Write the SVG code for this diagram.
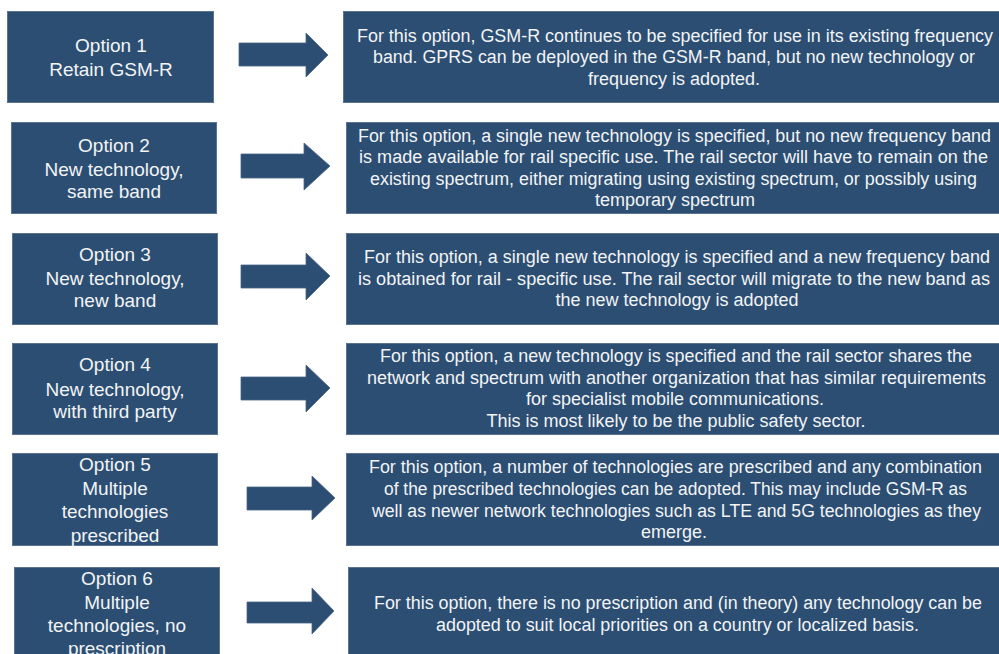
<svg xmlns="http://www.w3.org/2000/svg" width="999" height="654" viewBox="0 0 999 654">
<defs>
<style>
.box{fill:#2c4e72;stroke:#5a7390;stroke-width:1}
.arr{fill:#2c4e72;stroke:#4a6686;stroke-width:0.8}
.lt{font-family:"Liberation Sans",Arial,sans-serif;font-size:19px;fill:#f2f4f6;text-anchor:middle}
.rt{font-family:"Liberation Sans",Arial,sans-serif;font-size:18px;fill:#f2f4f6}
.rc{font-family:"Liberation Sans",Arial,sans-serif;font-size:18px;fill:#f2f4f6;text-anchor:middle}
</style>
</defs>
<rect width="999" height="654" fill="#ffffff"/>
<g id="connectors">
<path class="arr" d="M239,43 H306 V33 L328,55 L306,77 V66 H239 Z"/>
<path class="arr" d="M241,154 H304 V143 L330,166 L304,190 V178 H241 Z"/>
<path class="arr" d="M241,265 H306 V253 L330,276 L306,300 V288 H241 Z"/>
<path class="arr" d="M241,377 H306 V365 L330,388 L306,412 V400 H241 Z"/>
<path class="arr" d="M247,487 H312 V476 L335,498 L312,520 V510 H247 Z"/>
<path class="arr" d="M247,602 H312 V588 L334,611 L312,634 V623 H247 Z"/>
</g>
<g id="opt1">
<rect class="box" x="7.5" y="11.5" width="206" height="91"/>
<text class="lt" x="111" y="52">Option 1</text>
<text class="lt" x="111" y="76">Retain GSM-R</text>
</g>
<g id="opt2">
<rect class="box" x="11.5" y="122.5" width="205" height="91"/>
<text class="lt" x="114" y="152">Option 2</text>
<text class="lt" x="114" y="176">New technology,</text>
<text class="lt" x="114" y="198">same band</text>
</g>
<g id="opt3">
<rect class="box" x="12.5" y="233.5" width="205" height="91"/>
<text class="lt" x="115" y="261">Option 3</text>
<text class="lt" x="115" y="285">New technology,</text>
<text class="lt" x="115" y="307">new band</text>
</g>
<g id="opt4">
<rect class="box" x="12.5" y="343.5" width="205" height="91"/>
<text class="lt" x="115" y="371">Option 4</text>
<text class="lt" x="115" y="396">New technology,</text>
<text class="lt" x="115" y="418">with third party</text>
</g>
<g id="opt5">
<rect class="box" x="12.5" y="453.5" width="205" height="92"/>
<text class="lt" x="115" y="471">Option 5</text>
<text class="lt" x="115" y="495">Multiple</text>
<text class="lt" x="115" y="518">technologies</text>
<text class="lt" x="115" y="542">prescribed</text>
</g>
<g id="opt6">
<rect class="box" x="14.5" y="567.5" width="205" height="100"/>
<text class="lt" x="117" y="585">Option 6</text>
<text class="lt" x="117" y="609">Multiple</text>
<text class="lt" x="117" y="632">technologies, no</text>
<text class="lt" x="117" y="655">prescription</text>
</g>
<g id="desc1">
<rect class="box" x="343.5" y="11.5" width="670" height="91"/>
<text class="rt" x="357" y="42" textLength="636" lengthAdjust="spacingAndGlyphs">For this option, GSM-R  continues to be specified for use in its existing frequency</text>
<text class="rt" x="373" y="63" textLength="602" lengthAdjust="spacingAndGlyphs">band. GPRS can be deployed in the GSM-R  band, but no new technology or</text>
<text class="rc" x="674" y="85">frequency is adopted.</text>
</g>
<g id="desc2">
<rect class="box" x="346.5" y="122.5" width="670" height="91"/>
<text class="rt" x="358" y="142" textLength="633" lengthAdjust="spacingAndGlyphs">For this option, a single new technology is specified, but no new frequency band</text>
<text class="rt" x="359" y="163" textLength="629" lengthAdjust="spacingAndGlyphs">is made available for rail specific use. The rail sector will have to remain on the</text>
<text class="rt" x="370" y="185" textLength="607" lengthAdjust="spacingAndGlyphs">existing spectrum, either migrating using existing spectrum, or possibly using</text>
<text class="rc" x="675" y="206">temporary spectrum</text>
</g>
<g id="desc3">
<rect class="box" x="346.5" y="233.5" width="670" height="91"/>
<text class="rt" x="364" y="263" textLength="626" lengthAdjust="spacingAndGlyphs">For this option, a single new technology is specified and a new frequency band</text>
<text class="rt" x="358" y="285" textLength="632" lengthAdjust="spacingAndGlyphs">is obtained for rail - specific use. The rail sector will migrate to the new band as</text>
<text class="rc" x="677" y="306">the new technology is adopted</text>
</g>
<g id="desc4">
<rect class="box" x="346.5" y="343.5" width="670" height="91"/>
<text class="rt" x="380" y="362" textLength="592" lengthAdjust="spacingAndGlyphs">For this option, a new technology is specified and the rail sector shares the</text>
<text class="rt" x="367" y="384" textLength="619" lengthAdjust="spacingAndGlyphs">network and spectrum with another organization that has similar requirements</text>
<text class="rc" x="675" y="405">for specialist mobile communications.</text>
<text class="rc" x="676" y="427">This is most likely to be the public safety sector.</text>
</g>
<g id="desc5">
<rect class="box" x="346.5" y="453.5" width="670" height="92"/>
<text class="rt" x="369" y="473" textLength="613" lengthAdjust="spacingAndGlyphs">For this option, a number of technologies are prescribed and any combination</text>
<text class="rt" x="384" y="495" textLength="583" lengthAdjust="spacingAndGlyphs">of the prescribed technologies can be adopted. This may include GSM-R as</text>
<text class="rt" x="372" y="517" textLength="609" lengthAdjust="spacingAndGlyphs">well as newer network technologies such as LTE and 5G technologies as they</text>
<text class="rc" x="674" y="538">emerge.</text>
</g>
<g id="desc6">
<rect class="box" x="348.5" y="567.5" width="670" height="100"/>
<text class="rt" x="374" y="609" textLength="608" lengthAdjust="spacingAndGlyphs">For this option, there is no prescription and (in theory) any technology can be</text>
<text class="rt" x="436" y="631" textLength="483" lengthAdjust="spacingAndGlyphs">adopted to suit local priorities on a country or localized basis.</text>
</g>
</svg>
